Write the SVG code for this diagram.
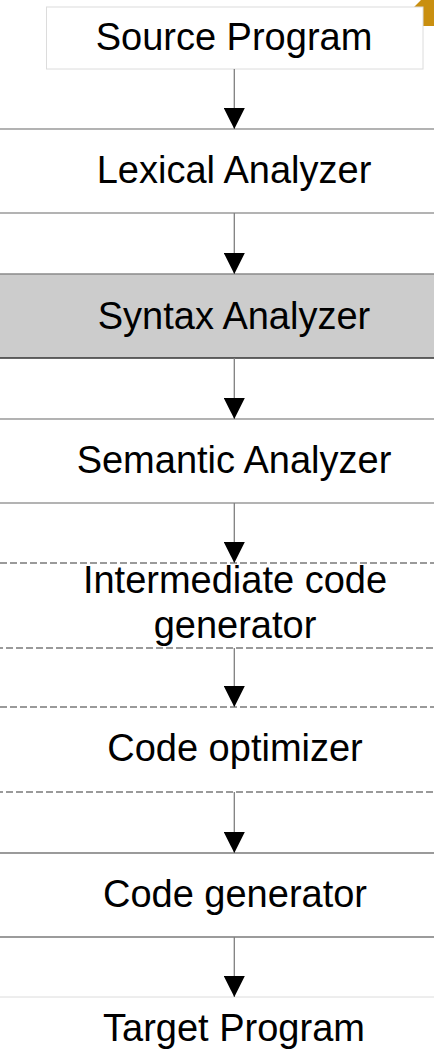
<svg xmlns="http://www.w3.org/2000/svg" width="434" height="1052" viewBox="0 0 434 1052">
<style>
text{font-family:"Liberation Sans",Arial,sans-serif;font-size:38px;fill:#000;text-anchor:middle}
.box{fill:#fff;stroke:#8a8a8a;stroke-width:1.3}
.dash{fill:#fff;stroke:#7a7a7a;stroke-width:1.3;stroke-dasharray:7 3}
.edge{fill:none;stroke:#7f7f7f;stroke-width:1.3}
</style>
<defs>
<marker id="ah" markerUnits="userSpaceOnUse" markerWidth="21" markerHeight="21" refX="21" refY="10.5" orient="auto">
<path d="M0,0 L21,10.5 L0,21 Z" fill="#000"/>
</marker>
</defs>
<polygon points="414,7 421,0 434,0 434,26 423,26 423,7" fill="#C98F10"/>
<g id="source">
<rect x="46.5" y="7" width="376.5" height="62" fill="#fff" stroke="#dcdcdc" stroke-width="1"/>
<text x="234" y="50">Source Program</text>
</g>
<g id="lexical">
<rect class="box" x="-10" y="129" width="454" height="84"/>
<text x="234" y="183">Lexical Analyzer</text>
</g>
<g id="syntax">
<rect x="-10" y="274" width="454" height="84" fill="#cccccc" stroke="none"/>
<line x1="-10" y1="274" x2="444" y2="274" stroke="#8a8a8a" stroke-width="1.3"/>
<line x1="-10" y1="358" x2="444" y2="358" stroke="#333" stroke-width="1.3"/>
<text x="234" y="329">Syntax Analyzer</text>
</g>
<g id="semantic">
<rect class="box" x="-10" y="419" width="454" height="84"/>
<text x="234" y="473">Semantic Analyzer</text>
</g>
<g id="intermediate">
<rect class="dash" x="-10" y="563" width="454" height="85"/>
<text x="235" y="593">Intermediate code</text>
<text x="235" y="638">generator</text>
</g>
<g id="optimizer">
<rect class="dash" x="-10" y="707" width="454" height="85"/>
<text x="235" y="761">Code optimizer</text>
</g>
<g id="codegen">
<rect x="-10" y="853" width="454" height="84" fill="#fff" stroke="#666" stroke-width="1.3"/>
<text x="235" y="907">Code generator</text>
</g>
<g id="target">
<line x1="-10" y1="997" x2="444" y2="997" stroke="#dcdcdc" stroke-width="1"/>
<text x="234" y="1041">Target Program</text>
</g>
<g id="connectors">
<line class="edge" x1="234.3" y1="69" x2="234.3" y2="129" marker-end="url(#ah)"/>
<line class="edge" x1="234.3" y1="213" x2="234.3" y2="274" marker-end="url(#ah)"/>
<line class="edge" x1="234.3" y1="358" x2="234.3" y2="419" marker-end="url(#ah)"/>
<line class="edge" x1="234.3" y1="503" x2="234.3" y2="563" marker-end="url(#ah)"/>
<line class="edge" x1="234.3" y1="648" x2="234.3" y2="707" marker-end="url(#ah)"/>
<line class="edge" x1="234.3" y1="792" x2="234.3" y2="853" marker-end="url(#ah)"/>
<line class="edge" x1="234.3" y1="937" x2="234.3" y2="997" marker-end="url(#ah)"/>
</g>
</svg>
